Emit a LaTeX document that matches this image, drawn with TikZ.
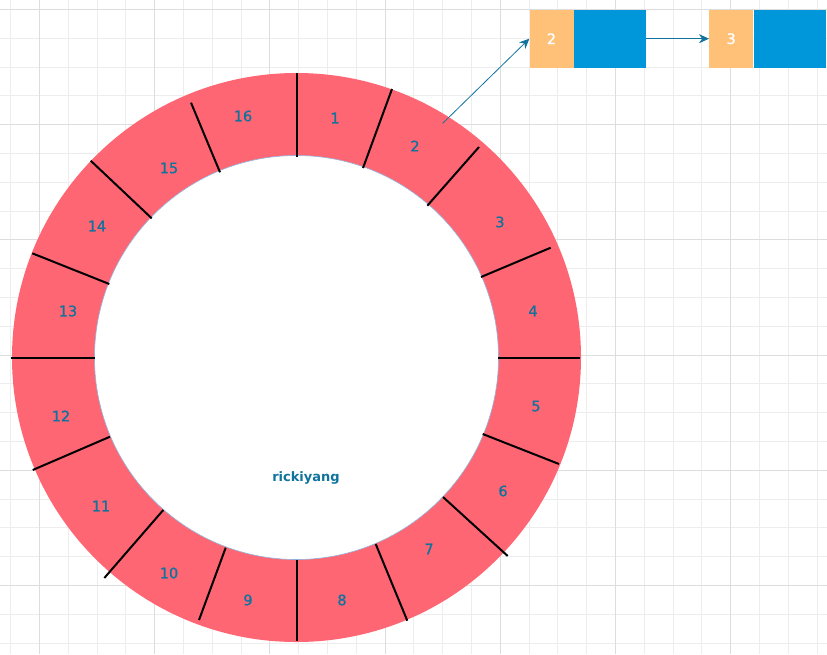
\documentclass[tikz,border=0pt]{standalone}
\usepackage{fontspec}
\setmainfont{DejaVu Sans}
\newfontfamily\labfont[FakeBold=1.2]{DejaVu Sans}
\usetikzlibrary{arrows.meta}
\definecolor{ringc}{HTML}{FF6673}
\definecolor{labc}{HTML}{10739E}
\definecolor{orangec}{HTML}{FFC077}
\definecolor{bluec}{HTML}{0096DA}
\definecolor{gridminor}{HTML}{EDEDED}
\definecolor{gridmajor}{HTML}{DDDDDD}
\definecolor{innerc}{HTML}{8FB3DA}
\begin{document}
\begin{tikzpicture}[x=1pt,y=-1pt,
  lbl/.style={text=labc,font=\labfont\fontsize{14.5}{16}\selectfont,inner sep=0pt},
  divline/.style={line width=2pt,black},
  okbox/.style={fill=orangec,draw=none,minimum width=44pt,minimum height=58.4pt,inner sep=0pt,anchor=north west,text=white,font=\labfont\fontsize{14.5}{16}\selectfont},
  blbox/.style={fill=bluec,draw=none,minimum width=72.4pt,minimum height=58.4pt,inner sep=0pt,anchor=north west},
  link/.style={draw=labc,line width=0.8pt,-{Stealth[length=10pt,width=9pt]}}]
\useasboundingbox (0,0) rectangle (827,654);
\fill[white] (0,0) rectangle (827,654);
% grid
\foreach \i in {-1,...,27} {\draw[gridminor,line width=0.8pt] ({39.3+28.8*\i},0) -- ({39.3+28.8*\i},654);}
\foreach \j in {0,...,22} {\draw[gridminor,line width=0.8pt] (0,{9.3+28.8*\j}) -- (827,{9.3+28.8*\j});}
\foreach \i in {0,4,...,24} {\draw[gridmajor,line width=0.8pt] ({39.3+28.8*\i},0) -- ({39.3+28.8*\i},654);}
\foreach \j in {0,4,...,20} {\draw[gridmajor,line width=0.8pt] (0,{9.3+28.8*\j}) -- (827,{9.3+28.8*\j});}
% ring
\coordinate (c) at (296.5,357.5);
\fill[ringc] (c) circle[radius=284.5pt];
\fill[white] (c) circle[radius=202pt];
\draw[innerc,line width=0.6pt] (c) circle[radius=202pt];
% dividers
\draw[divline] (296.5,73) -- (296.5,157);
\draw[divline] (392,89) -- (363,168);
\draw[divline] (479,147) -- (427.3,205.7);
\draw[divline] (550.7,247.7) -- (481,277);
\draw[divline] (498,357.5) -- (580,357.5);
\draw[divline] (482.7,434) -- (559,464);
\draw[divline] (443,497) -- (507.7,556);
\draw[divline] (375.7,544) -- (407.3,620.7);
\draw[divline] (296.5,560) -- (296.5,641);
\draw[divline] (225.7,547.7) -- (199,620);
\draw[divline] (163.3,510) -- (104.3,578);
\draw[divline] (110,436.7) -- (32.7,470);
\draw[divline] (11,358) -- (95,358);
\draw[divline] (109.3,284) -- (32.3,253.3);
\draw[divline] (151.7,218.3) -- (90.7,160.7);
\draw[divline] (191,102.7) -- (220,172.3);
% labels
\node[lbl] (s1) at (335,118) {1};
\node[lbl] (s2) at (415,146) {2};
\node[lbl] (s3) at (500,222) {3};
\node[lbl] (s4) at (533,311) {4};
\node[lbl] (s5) at (536,406) {5};
\node[lbl] (s6) at (503,491) {6};
\node[lbl] (s7) at (429,549) {7};
\node[lbl] (s8) at (342,600) {8};
\node[lbl] (s9) at (248,600) {9};
\node[lbl] (s10) at (169,573) {10};
\node[lbl] (s11) at (101,506) {11};
\node[lbl] (s12) at (61,416) {12};
\node[lbl] (s13) at (68,311) {13};
\node[lbl] (s14) at (97,226) {14};
\node[lbl] (s15) at (169,168) {15};
\node[lbl] (s16) at (243,116) {16};
\node[lbl,font=\bfseries\fontsize{13}{16}\selectfont] (name) at (306,478) {rickiyang};
% linked list
\node[okbox] (b2o) at (529.3,9.3) {2};
\node[blbox] (b2b) at (573.3,9.3) {};
\node[okbox] (b3o) at (709,9.3) {3};
\node[blbox] (b3b) at (753.3,9.3) {};
\coordinate (start) at (442.7,123.3);
\draw[link] (start) -- (b2o.west);
\draw[link] (b2b.east) -- (b3o.west);
\end{tikzpicture}
\end{document}
